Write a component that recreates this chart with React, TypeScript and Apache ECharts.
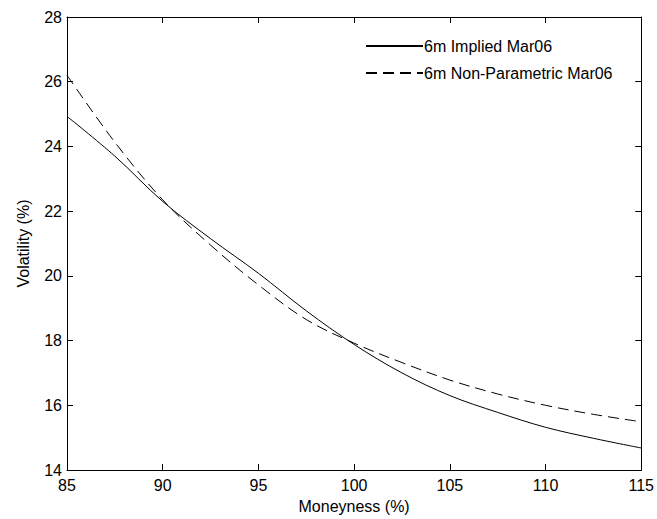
import React, { useEffect, useRef } from "react";
import * as echarts from "echarts";

const moneyness = [85, 87.5, 90, 92.5, 95, 97.5, 100, 102.5, 105, 107.5, 110, 112.5, 115];
const impliedVol = [24.93, 23.7, 22.3, 21.15, 20.08, 18.92, 17.88, 17.0, 16.3, 15.78, 15.32, 14.98, 14.68];
const nonParamVol = [26.2, 24.13, 22.35, 20.95, 19.72, 18.65, 17.92, 17.32, 16.78, 16.35, 16.0, 15.72, 15.49];
const seriesNames = ["6m Implied Mar06", "6m Non-Parametric Mar06"];

const FONT = "Liberation Sans, Arial, sans-serif";

export default function App() {
  const ref = useRef<HTMLDivElement>(null);
  useEffect(() => {
    if (!ref.current) return;
    const chart = echarts.init(ref.current, null, { renderer: "svg" });
    const axisLine = { show: true, lineStyle: { color: "#000", width: 1 } };
    const tick = { show: true, inside: true, length: 6, lineStyle: { color: "#000", width: 1 } };
    const label = { color: "#000", fontSize: 16, fontFamily: FONT };
    chart.setOption({
      animation: false,
      backgroundColor: "#fff",
      grid: { left: 67, right: 13, top: 17, bottom: 46 },
      legend: {
        orient: "vertical",
        left: 360,
        top: 33,
        itemWidth: 57,
        itemHeight: 16,
        itemGap: 11,
        itemStyle: { opacity: 0 },
        textStyle: { color: "#000", fontSize: 16, fontFamily: FONT, padding: [0, 0, 0, -4] },
        data: seriesNames,
      },
      xAxis: [
        {
          type: "value",
          min: 85,
          max: 115,
          interval: 5,
          name: "Moneyness (%)",
          nameLocation: "middle",
          nameGap: 28,
          nameTextStyle: { color: "#000", fontSize: 16, fontFamily: FONT },
          axisLine,
          axisTick: tick,
          axisLabel: { ...label, margin: 7 },
          splitLine: { show: false },
        },
        {
          type: "value",
          position: "top",
          min: 85,
          max: 115,
          interval: 5,
          axisLine,
          axisTick: tick,
          axisLabel: { show: false },
          splitLine: { show: false },
        },
      ],
      yAxis: [
        {
          type: "value",
          min: 14,
          max: 28,
          interval: 2,
          name: "Volatility (%)",
          nameLocation: "middle",
          nameGap: 36,
          nameTextStyle: { color: "#000", fontSize: 16, fontFamily: FONT },
          axisLine,
          axisTick: tick,
          axisLabel: { ...label, margin: 5 },
          splitLine: { show: false },
        },
        {
          type: "value",
          position: "right",
          min: 14,
          max: 28,
          interval: 2,
          axisLine,
          axisTick: tick,
          axisLabel: { show: false },
          splitLine: { show: false },
        },
      ],
      series: [
        {
          name: seriesNames[0],
          type: "line",
          xAxisIndex: 0,
          yAxisIndex: 0,
          smooth: 0.35,
          symbol: "none",
          data: moneyness.map((x, i) => [x, impliedVol[i]]),
          lineStyle: { color: "#000", width: 1, type: "solid" },
          itemStyle: { color: "#000" },
        },
        {
          name: seriesNames[1],
          type: "line",
          xAxisIndex: 0,
          yAxisIndex: 0,
          smooth: 0.35,
          symbol: "none",
          data: moneyness.map((x, i) => [x, nonParamVol[i]]),
          lineStyle: { color: "#000", width: 1, type: [11, 6] },
          itemStyle: { color: "#000" },
        },
      ],
    });
    return () => chart.dispose();
  }, []);
  return <div ref={ref} style={{ width: 657, height: 519, position: "absolute", left: 0, top: 0 }} />;
}
